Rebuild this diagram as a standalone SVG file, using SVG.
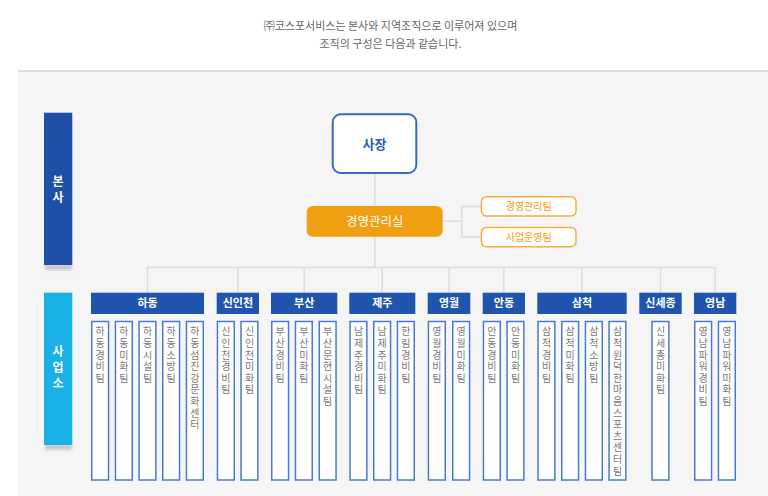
<svg xmlns="http://www.w3.org/2000/svg" width="768" height="496" viewBox="0 0 768 496">
<defs>
<style>
text{font-family:"Noto Sans CJK KR","Noto Sans",sans-serif}
.intro{font-size:11px;fill:#666;text-anchor:middle}
.side{font-size:12px;font-weight:bold;fill:#fff;text-anchor:middle}
.hd{fill:#1f55ad}
.hdt{font-size:11px;font-weight:bold;fill:#fff;text-anchor:middle}
.col{fill:#fff;stroke:#4a7bcc;stroke-width:1.5}
.ct{font-size:10px;fill:#7a7a7a;writing-mode:vertical-rl;text-orientation:upright;letter-spacing:1.6px}
.conn{stroke:#dcdcdc;stroke-width:1.5;fill:none}
.sub{fill:#fff;stroke:#f4b03c;stroke-width:1.5}
.subt{font-size:10px;fill:#f0a020;text-anchor:middle}
</style>
<filter id="sh" x="-20%" y="-100%" width="140%" height="300%"><feGaussianBlur stdDeviation="1.5"/></filter>
</defs>
<rect x="0" y="0" width="768" height="496" fill="#fff"/>
<rect x="18" y="71" width="750" height="425" fill="#f5f5f5"/>
<line x1="18" y1="71" x2="768" y2="71" stroke="#dedede" stroke-width="2"/>
<text class="intro" x="390.5" y="29.8">㈜코스포서비스는 본사와 지역조직으로 이루어져 있으며</text>
<text class="intro" x="390.5" y="48">조직의 구성은 다음과 같습니다.</text>

<g id="bar-bonsa">
<rect x="45" y="264" width="27" height="6" fill="#c8c8c8" filter="url(#sh)"/>
<rect x="44" y="112.7" width="28.3" height="152.3" fill="#1f50a8"/>
<text class="side" x="58" y="186">본</text>
<text class="side" x="58" y="202">사</text>
</g>
<g id="bar-saeopso">
<rect x="45" y="444" width="27" height="6" fill="#c8c8c8" filter="url(#sh)"/>
<rect x="44" y="292.7" width="28.3" height="152.3" fill="#19b0e6"/>
<text class="side" x="58" y="356">사</text>
<text class="side" x="58" y="372">업</text>
<text class="side" x="58" y="388">소</text>
</g>

<g id="connectors">
<line class="conn" x1="374.8" y1="174" x2="374.8" y2="267.5"/>
<line class="conn" x1="442.7" y1="221.3" x2="461.7" y2="221.3"/>
<path class="conn" d="M480.7 206.5 H461.7 V237 H480.7"/>
<line class="conn" x1="147.5" y1="267.5" x2="715.5" y2="267.5"/>
<line class="conn" x1="147.5" y1="267.5" x2="147.5" y2="292.7"/>
<line class="conn" x1="237.9" y1="267.5" x2="237.9" y2="292.7"/>
<line class="conn" x1="304.2" y1="267.5" x2="304.2" y2="292.7"/>
<line class="conn" x1="382.3" y1="267.5" x2="382.3" y2="292.7"/>
<line class="conn" x1="449" y1="267.5" x2="449" y2="292.7"/>
<line class="conn" x1="503.9" y1="267.5" x2="503.9" y2="292.7"/>
<line class="conn" x1="582" y1="267.5" x2="582" y2="292.7"/>
<line class="conn" x1="660.5" y1="267.5" x2="660.5" y2="292.7"/>
<line class="conn" x1="715.2" y1="267.5" x2="715.2" y2="292.7"/>
</g>

<g id="ceo">
<rect x="332.7" y="114.3" width="83.6" height="58.7" rx="8" fill="#fff" stroke="#3868c2" stroke-width="2"/>
<text x="374.5" y="148.5" font-size="13" font-weight="bold" fill="#2a5cb4" text-anchor="middle">사장</text>
</g>
<g id="mgmt-office">
<rect x="306.7" y="206" width="136" height="30.7" rx="6" fill="#f09e12"/>
<text x="374.7" y="225.5" font-size="12.5" fill="#fff" text-anchor="middle">경영관리실</text>
</g>
<g id="mgmt-team">
<rect class="sub" x="481.4" y="196.7" width="94.6" height="19.3" rx="5"/>
<text class="subt" x="528.7" y="210">경영관리팀</text>
</g>
<g id="biz-team">
<rect class="sub" x="481.4" y="227.4" width="94.6" height="19.3" rx="5"/>
<text class="subt" x="528.7" y="240.7">사업운영팀</text>
</g>

<g id="hadong">
<rect class="hd" x="91" y="292.7" width="113" height="21.3"/>
<text class="hdt" x="147.5" y="307.3">하동</text>
<rect class="col" x="91.75" y="321.5" width="16.8" height="158.5"/><text class="ct" x="100.2" y="326.7">하동경비팀</text>
<rect class="col" x="115.45" y="321.5" width="16.8" height="158.5"/><text class="ct" x="123.9" y="326.7">하동미화팀</text>
<rect class="col" x="139.05" y="321.5" width="16.8" height="158.5"/><text class="ct" x="147.5" y="326.7">하동시설팀</text>
<rect class="col" x="162.75" y="321.5" width="16.8" height="158.5"/><text class="ct" x="171.2" y="326.7">하동소방팀</text>
<rect class="col" x="186.45" y="321.5" width="16.8" height="158.5"/><text class="ct" x="194.9" y="326.7">하동섬진강문화센터</text>
</g>
<g id="sinincheon">
<rect class="hd" x="216.7" y="292.7" width="42.3" height="21.3"/>
<text class="hdt" x="237.9" y="307.3">신인천</text>
<rect class="col" x="217.45" y="321.5" width="16.8" height="158.5"/><text class="ct" x="225.9" y="326.7">신인천경비팀</text>
<rect class="col" x="241.05" y="321.5" width="16.8" height="158.5"/><text class="ct" x="249.5" y="326.7">신인천미화팀</text>
</g>
<g id="busan">
<rect class="hd" x="271" y="292.7" width="66.3" height="21.3"/>
<text class="hdt" x="304.2" y="307.3">부산</text>
<rect class="col" x="271.75" y="321.5" width="16.8" height="158.5"/><text class="ct" x="280.2" y="326.7">부산경비팀</text>
<rect class="col" x="295.45" y="321.5" width="16.8" height="158.5"/><text class="ct" x="303.9" y="326.7">부산미화팀</text>
<rect class="col" x="319.25" y="321.5" width="16.8" height="158.5"/><text class="ct" x="327.7" y="326.7">부산문현시설팀</text>
</g>
<g id="jeju">
<rect class="hd" x="349.3" y="292.7" width="66" height="21.3"/>
<text class="hdt" x="382.3" y="307.3">제주</text>
<rect class="col" x="350.05" y="321.5" width="16.8" height="158.5"/><text class="ct" x="358.5" y="326.7">남제주경비팀</text>
<rect class="col" x="373.75" y="321.5" width="16.8" height="158.5"/><text class="ct" x="382.2" y="326.7">남제주미화팀</text>
<rect class="col" x="397.45" y="321.5" width="16.8" height="158.5"/><text class="ct" x="405.9" y="326.7">한림경비팀</text>
</g>
<g id="yeongwol">
<rect class="hd" x="427.7" y="292.7" width="42.6" height="21.3"/>
<text class="hdt" x="449" y="307.3">영월</text>
<rect class="col" x="428.45" y="321.5" width="16.8" height="158.5"/><text class="ct" x="436.9" y="326.7">영월경비팀</text>
<rect class="col" x="452.75" y="321.5" width="16.8" height="158.5"/><text class="ct" x="461.2" y="326.7">영월미화팀</text>
</g>
<g id="andong">
<rect class="hd" x="482.7" y="292.7" width="42.3" height="21.3"/>
<text class="hdt" x="503.9" y="307.3">안동</text>
<rect class="col" x="483.45" y="321.5" width="16.8" height="158.5"/><text class="ct" x="491.9" y="326.7">안동경비팀</text>
<rect class="col" x="507.05" y="321.5" width="16.8" height="158.5"/><text class="ct" x="515.5" y="326.7">안동미화팀</text>
</g>
<g id="samcheok">
<rect class="hd" x="537.3" y="292.7" width="89.4" height="21.3"/>
<text class="hdt" x="582" y="307.3">삼척</text>
<rect class="col" x="538.05" y="321.5" width="16.8" height="158.5"/><text class="ct" x="546.5" y="326.7">삼척경비팀</text>
<rect class="col" x="561.75" y="321.5" width="16.8" height="158.5"/><text class="ct" x="570.2" y="326.7">삼척미화팀</text>
<rect class="col" x="585.45" y="321.5" width="16.8" height="158.5"/><text class="ct" x="593.9" y="326.7">삼척소방팀</text>
<rect class="col" x="609.05" y="321.5" width="16.8" height="158.5"/><text class="ct" x="617.5" y="326.7">삼척원덕한마음스포츠센터팀</text>
</g>
<g id="sinsejong">
<rect class="hd" x="639.3" y="292.7" width="42.4" height="21.3"/>
<text class="hdt" x="660.5" y="307.3">신세종</text>
<rect class="col" x="652.05" y="321.5" width="16.8" height="158.5"/><text class="ct" x="660.5" y="326.7">신세종미화팀</text>
</g>
<g id="yeongnam">
<rect class="hd" x="694" y="292.7" width="42.3" height="21.3"/>
<text class="hdt" x="715.2" y="307.3">영남</text>
<rect class="col" x="694.75" y="321.5" width="16.8" height="158.5"/><text class="ct" x="703.2" y="326.7">영남파워경비팀</text>
<rect class="col" x="718.45" y="321.5" width="16.8" height="158.5"/><text class="ct" x="726.9" y="326.7">영남파워미화팀</text>
</g>
</svg>
